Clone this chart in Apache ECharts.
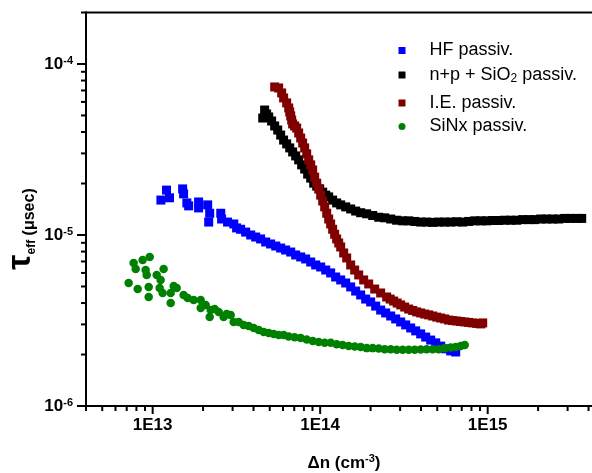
<!DOCTYPE html>
<html>
<head>
<meta charset="utf-8">
<script src="https://cdn.jsdelivr.net/npm/echarts@6/dist/echarts.min.js"></script>
<style>html,body{margin:0;padding:0;background:#fff}#c{width:592px;height:473px}</style>
</head>
<body>
<div id="c"></div>
<script>
// ---------------- data (Δn in cm^-3, τeff in s) ----------------
const seriesNames = ['HF passiv.', 'n+p + SiO2 passiv.', 'I.E. passiv.', 'SiNx passiv.'];

const hfPoints = [
  [1.12e13,1.60e-5],[1.21e13,1.83e-5],[1.26e13,1.65e-5],[1.51e13,1.86e-5],[1.53e13,1.74e-5],
  [1.60e13,1.54e-5],[1.64e13,1.48e-5],[1.88e13,1.56e-5],[1.88e13,1.44e-5],[2.13e13,1.50e-5],
  [2.19e13,1.34e-5],[2.16e13,1.19e-5],[2.55e13,1.34e-5],[2.58e13,1.24e-5],[2.80e13,1.19e-5],
  [3.05e13,1.16e-5],[3.17e13,1.10e-5],[3.35e13,1.08e-5],[3.59e13,1.04e-5],[3.85e13,1.00e-5],
  [4.12e13,9.73e-6],[4.41e13,9.48e-6],[4.73e13,9.10e-6],[5.06e13,8.86e-6],[5.43e13,8.62e-6],
  [5.81e13,8.39e-6],[6.22e13,8.17e-6],[6.67e13,7.95e-6],[7.14e13,7.64e-6],[7.65e13,7.44e-6],
  [8.19e13,7.24e-6],[8.78e13,6.95e-6],[9.40e13,6.68e-6],[1.007e14,6.50e-6],[1.079e14,6.24e-6],
  [1.155e14,6.00e-6],[1.237e14,5.68e-6],[1.326e14,5.46e-6],[1.420e14,5.24e-6],[1.521e14,4.97e-6],
  [1.629e14,4.70e-6],[1.745e14,4.46e-6],[1.869e14,4.22e-6],[2.002e14,4.06e-6],[2.145e14,3.84e-6],
  [2.297e14,3.64e-6],[2.460e14,3.50e-6],[2.636e14,3.36e-6],[2.823e14,3.23e-6],[3.024e14,3.10e-6],
  [3.239e14,2.98e-6],[3.470e14,2.86e-6],[3.717e14,2.75e-6],[3.981e14,2.64e-6],[4.265e14,2.53e-6],
  [4.568e14,2.43e-6],[4.893e14,2.34e-6],[5.241e14,2.24e-6],[5.615e14,2.16e-6],[6.014e14,2.10e-6],
  [6.442e14,2.07e-6]
];

const npSiO2Points = [
  [4.54e13,4.83e-5],[4.66e13,5.38e-5],[4.79e13,5.10e-5],[4.93e13,4.90e-5],[5.13e13,4.64e-5],
  [5.35e13,4.34e-5],[5.58e13,4.11e-5],[5.81e13,3.84e-5],[6.05e13,3.59e-5],[6.31e13,3.41e-5],
  [6.58e13,3.23e-5],[6.85e13,3.06e-5],[7.14e13,2.90e-5],[7.44e13,2.75e-5],[7.75e13,2.57e-5],
  [8.08e13,2.43e-5],[8.42e13,2.27e-5],[8.78e13,2.15e-5],[9.15e13,2.01e-5],[9.53e13,1.93e-5],
  [9.93e13,1.86e-5],[1.035e14,1.78e-5],[1.079e14,1.71e-5],[1.124e14,1.67e-5],[1.187e14,1.60e-5],
  [1.254e14,1.54e-5],[1.326e14,1.50e-5],[1.420e14,1.46e-5],[1.521e14,1.42e-5],[1.629e14,1.38e-5],
  [1.745e14,1.35e-5],[1.895e14,1.33e-5],[2.058e14,1.30e-5],[2.235e14,1.27e-5],[2.426e14,1.26e-5],
  [2.636e14,1.24e-5],[2.862e14,1.22e-5],[3.108e14,1.21e-5],[3.376e14,1.21e-5],[3.666e14,1.20e-5],
  [3.981e14,1.19e-5],[4.324e14,1.19e-5],[4.695e14,1.185e-5],[5.099e14,1.19e-5],[5.538e14,1.19e-5],
  [6.014e14,1.19e-5],[6.531e14,1.195e-5],[7.093e14,1.19e-5],[7.70e14,1.20e-5],[8.37e14,1.21e-5],
  [9.09e14,1.21e-5],[9.87e14,1.21e-5],[1.071e15,1.215e-5],[1.163e15,1.215e-5],[1.263e15,1.22e-5],
  [1.372e15,1.22e-5],[1.490e15,1.22e-5],[1.618e15,1.23e-5],[1.757e15,1.23e-5],[1.908e15,1.23e-5],
  [2.072e15,1.24e-5],[2.251e15,1.24e-5],[2.444e15,1.24e-5],[2.654e15,1.24e-5],[2.883e15,1.25e-5],
  [3.131e15,1.25e-5],[3.400e15,1.25e-5],[3.641e15,1.25e-5]
];

const iePoints = [
  [5.35e13,7.34e-5],[5.65e13,7.24e-5],[5.89e13,6.77e-5],[6.05e13,6.33e-5],[6.31e13,5.92e-5],
  [6.49e13,5.53e-5],[6.58e13,5.24e-5],[6.67e13,4.97e-5],[6.76e13,4.70e-5],[6.85e13,4.46e-5],
  [7.04e13,4.34e-5],[7.24e13,4.22e-5],[7.44e13,3.95e-5],[7.65e13,3.69e-5],[7.86e13,3.45e-5],
  [8.08e13,3.23e-5],[8.31e13,2.98e-5],[8.54e13,2.75e-5],[8.78e13,2.57e-5],[9.02e13,2.40e-5],
  [9.27e13,2.18e-5],[9.53e13,2.01e-5],[9.80e13,1.86e-5],[1.007e14,1.71e-5],[1.035e14,1.58e-5],
  [1.064e14,1.46e-5],[1.094e14,1.34e-5],[1.124e14,1.24e-5],[1.155e14,1.16e-5],[1.187e14,1.08e-5],
  [1.220e14,1.01e-5],[1.254e14,9.48e-6],[1.290e14,8.98e-6],[1.326e14,8.51e-6],[1.381e14,7.85e-6],
  [1.440e14,7.34e-6],[1.521e14,6.68e-6],[1.607e14,6.24e-6],[1.698e14,5.84e-6],[1.818e14,5.46e-6],
  [1.948e14,5.17e-6],[2.116e14,4.83e-6],[2.297e14,4.58e-6],[2.494e14,4.34e-6],[2.618e14,4.22e-6],
  [2.746e14,4.11e-6],[2.882e14,4.00e-6],[3.024e14,3.90e-6],[3.195e14,3.79e-6],[3.376e14,3.69e-6],
  [3.567e14,3.62e-6],[3.768e14,3.55e-6],[3.981e14,3.50e-6],[4.207e14,3.45e-6],[4.444e14,3.41e-6],
  [4.695e14,3.36e-6],[4.961e14,3.31e-6],[5.241e14,3.27e-6],[5.538e14,3.23e-6],[5.851e14,3.18e-6],
  [6.182e14,3.16e-6],[6.531e14,3.14e-6],[6.901e14,3.12e-6],[7.291e14,3.10e-6],[7.70e14,3.08e-6],
  [8.139e14,3.06e-6],[8.60e14,3.04e-6],[9.086e14,3.02e-6],[9.34e14,3.06e-6]
];

const sinxPoints = [
  [7.19e12,5.24e-6],[7.70e12,6.86e-6],[7.92e12,6.33e-6],[8.14e12,4.83e-6],[8.71e12,7.14e-6],
  [9.08e12,6.24e-6],[9.21e12,5.84e-6],[9.47e12,4.96e-6],[9.47e12,4.34e-6],[9.60e12,7.44e-6],
  [1.057e13,5.84e-6],[1.101e13,4.90e-6],[1.116e13,5.46e-6],[1.147e13,4.58e-6],[1.163e13,6.33e-6],
  [1.281e13,4.58e-6],[1.281e13,4.00e-6],[1.335e13,5.03e-6],[1.391e13,4.90e-6],[1.531e13,4.46e-6],
  [1.618e13,4.28e-6],[1.757e13,4.17e-6],[1.935e13,4.17e-6],[1.935e13,3.74e-6],[2.072e13,3.90e-6],
  [2.190e13,3.31e-6],[2.220e13,3.64e-6],[2.345e13,3.69e-6],[2.478e13,3.55e-6],[2.654e13,3.31e-6],
  [2.766e13,3.45e-6],[2.922e13,3.41e-6],[3.045e13,3.10e-6],[3.262e13,3.10e-6],[3.494e13,2.98e-6],
  [3.743e13,2.94e-6],[4.009e13,2.86e-6],[4.295e13,2.78e-6],[4.601e13,2.71e-6],[4.927e13,2.67e-6],
  [5.279e13,2.64e-6],[5.652e13,2.60e-6],[6.055e13,2.60e-6],[6.486e13,2.55e-6],[7.044e13,2.52e-6],
  [7.649e13,2.50e-6],[8.307e13,2.45e-6],[9.021e13,2.40e-6],[9.796e13,2.37e-6],[1.064e14,2.34e-6],
  [1.155e14,2.34e-6],[1.254e14,2.30e-6],[1.362e14,2.27e-6],[1.480e14,2.24e-6],[1.607e14,2.23e-6],
  [1.745e14,2.21e-6],[1.895e14,2.18e-6],[2.058e14,2.18e-6],[2.236e14,2.17e-6],[2.428e14,2.15e-6],
  [2.636e14,2.15e-6],[2.862e14,2.13e-6],[3.108e14,2.13e-6],[3.376e14,2.13e-6],[3.666e14,2.13e-6],
  [3.981e14,2.14e-6],[4.323e14,2.15e-6],[4.695e14,2.15e-6],[5.099e14,2.15e-6],[5.538e14,2.18e-6],
  [6.014e14,2.20e-6],[6.442e14,2.21e-6],[6.901e14,2.24e-6],[7.292e14,2.27e-6]
];

// axis ranges and tick positions
const X_MIN = 4e12, X_MAX = 1e16;
const Y_MIN = 1e-6, Y_MAX = 2e-4;
const xMajorTicks = [1e13, 1e14, 1e15];
const xMinorTicks = [4e12,5e12,6e12,7e12,8e12,9e12,
  2e13,3e13,4e13,5e13,6e13,7e13,8e13,9e13,
  2e14,3e14,4e14,5e14,6e14,7e14,8e14,9e14,
  2e15,3e15,4e15,5e15,6e15,7e15,8e15,9e15];
const yMajorTicks = [1e-6, 1e-5, 1e-4];
const yMinorTicks = [2e-6,3e-6,4e-6,5e-6,6e-6,7e-6,8e-6,9e-6,
  2e-5,3e-5,4e-5,5e-5,6e-5,7e-5,8e-5,9e-5,2e-4];

// ---------------- chart ----------------
const FONT = '"Liberation Sans", Arial, Helvetica, sans-serif';
const MAJOR_LEN = 8, MINOR_LEN = 5;
const isPow10 = v => { const l = Math.log10(v); return Math.abs(l - Math.round(l)) < 1e-6; };

const xTickData = xMajorTicks.map(v => [v, Y_MIN, MAJOR_LEN]).concat(xMinorTicks.map(v => [v, Y_MIN, MINOR_LEN]));
const yTickData = yMajorTicks.map(v => [X_MIN, v, MAJOR_LEN + 1]).concat(yMinorTicks.map(v => [X_MIN, v, MINOR_LEN]));

const chart = echarts.init(document.getElementById('c'), null, {renderer: 'canvas'});

const legendText = {
  color: '#000', fontSize: 18, fontFamily: FONT, lineHeight: 20, padding: [0, 0, 0, 19],
  rich: {
    sub: {fontSize: 12, lineHeight: 12, verticalAlign: 'bottom', padding: [13, 0, 0, 0], color: '#000', fontFamily: FONT}
  }
};
function mkLegend(name, top, icon) {
  return {
    data: [name], left: 398.5, top: top, orient: 'vertical', padding: 0,
    itemWidth: 7, itemHeight: 7, icon: icon, selectedMode: false,
    formatter: n => n === 'n+p + SiO2 passiv.' ? 'n+p + SiO{sub|2} passiv.' : n,
    textStyle: legendText
  };
}

const tickSeries = (data, dir) => ({
  type: 'custom', silent: true, clip: false, z: 10, data: data,
  renderItem: (params, api) => {
    const p = api.coord([api.value(0), api.value(1)]);
    const len = api.value(2);
    const shape = dir === 'x'
      ? {x1: p[0], y1: p[1], x2: p[0], y2: p[1] + len}
      : {x1: p[0], y1: p[1], x2: p[0] - len, y2: p[1]};
    return {type: 'line', shape: shape, style: {stroke: '#000', lineWidth: 2}};
  }
});

const option = {
  animation: false,
  backgroundColor: '#ffffff',
  grid: {left: 86, top: 12.5, width: 569.2, height: 393.5, show: true,
         borderColor: '#000', borderWidth: 2, backgroundColor: 'transparent',
         containLabel: false, outerBoundsMode: 'none'},
  xAxis: {
    type: 'log', logBase: 10, min: X_MIN, max: X_MAX,
    axisLine: {show: true, onZero: false, lineStyle: {color: '#000', width: 2}},
    axisTick: {show: false}, minorTick: {show: false}, splitLine: {show: false},
    axisLabel: {
      show: true, margin: 11, color: '#000', fontSize: 17, fontWeight: 'bold', fontFamily: FONT,
      hideOverlap: false, showMinLabel: true, showMaxLabel: true,
      formatter: v => isPow10(v) ? '1E' + Math.round(Math.log10(v)) : ''
    }
  },
  yAxis: {
    type: 'log', logBase: 10, min: Y_MIN, max: Y_MAX,
    axisLine: {show: true, onZero: false, lineStyle: {color: '#000', width: 2}},
    axisTick: {show: false}, minorTick: {show: false}, splitLine: {show: false},
    axisLabel: {
      show: true, margin: 13, color: '#000', fontFamily: FONT,
      hideOverlap: false, showMinLabel: true, showMaxLabel: true,
      formatter: v => isPow10(v) ? '{b|10}{s|' + Math.round(Math.log10(v)) + '}' : '',
      rich: {
        b: {fontSize: 17, fontWeight: 'bold', lineHeight: 18, color: '#000', fontFamily: FONT},
        s: {fontSize: 11, fontWeight: 'bold', lineHeight: 11, verticalAlign: 'top', color: '#000', fontFamily: FONT}
      }
    }
  },
  legend: [
    mkLegend(seriesNames[0], 40.5, 'rect'),
    mkLegend(seriesNames[1], 60, 'rect'),
    mkLegend(seriesNames[2], 93, 'rect'),
    mkLegend(seriesNames[3], 116.5, 'circle')
  ],
  graphic: [
    {
      type: 'text', x: 23, y: 229, rotation: Math.PI / 2, silent: true,
      style: {
        text: '{tau|τ}{sub|eff}{b| (μsec)}', align: 'center', verticalAlign: 'middle',
        rich: {
          tau: {fontSize: 34, fontWeight: 'bold', fontFamily: FONT, fill: '#000', lineHeight: 30, verticalAlign: 'bottom'},
          sub: {fontSize: 12, fontWeight: 'bold', fontFamily: FONT, fill: '#000', lineHeight: 12, verticalAlign: 'bottom'},
          b: {fontSize: 16, fontWeight: 'bold', fontFamily: FONT, fill: '#000', lineHeight: 16, verticalAlign: 'bottom'}
        }
      }
    },
    {
      type: 'text', x: 344, y: 463, silent: true,
      style: {
        text: '{b|Δn (cm}{s|-3}{b|)}', align: 'center', verticalAlign: 'middle',
        rich: {
          b: {fontSize: 17, fontWeight: 'bold', fontFamily: FONT, fill: '#000', lineHeight: 19},
          s: {fontSize: 11, fontWeight: 'bold', fontFamily: FONT, fill: '#000', lineHeight: 11, verticalAlign: 'top'}
        }
      }
    }
  ],
  series: [
    {type: 'scatter', name: seriesNames[0], data: hfPoints, symbol: 'rect', symbolSize: 9,
     itemStyle: {color: '#0000ff', opacity: 1}, z: 3},
    {type: 'scatter', name: seriesNames[1], data: npSiO2Points, symbol: 'rect', symbolSize: 9,
     itemStyle: {color: '#000000', opacity: 1}, z: 3},
    {type: 'scatter', name: seriesNames[2], data: iePoints, symbol: 'rect', symbolSize: 9,
     itemStyle: {color: '#800000', opacity: 1}, z: 3},
    {type: 'scatter', name: seriesNames[3], data: sinxPoints, symbol: 'circle', symbolSize: 8.5,
     itemStyle: {color: '#008000', opacity: 1}, z: 3},
    tickSeries(xTickData, 'x'),
    tickSeries(yTickData, 'y')
  ]
};
chart.setOption(option);
</script>
</body>
</html>
